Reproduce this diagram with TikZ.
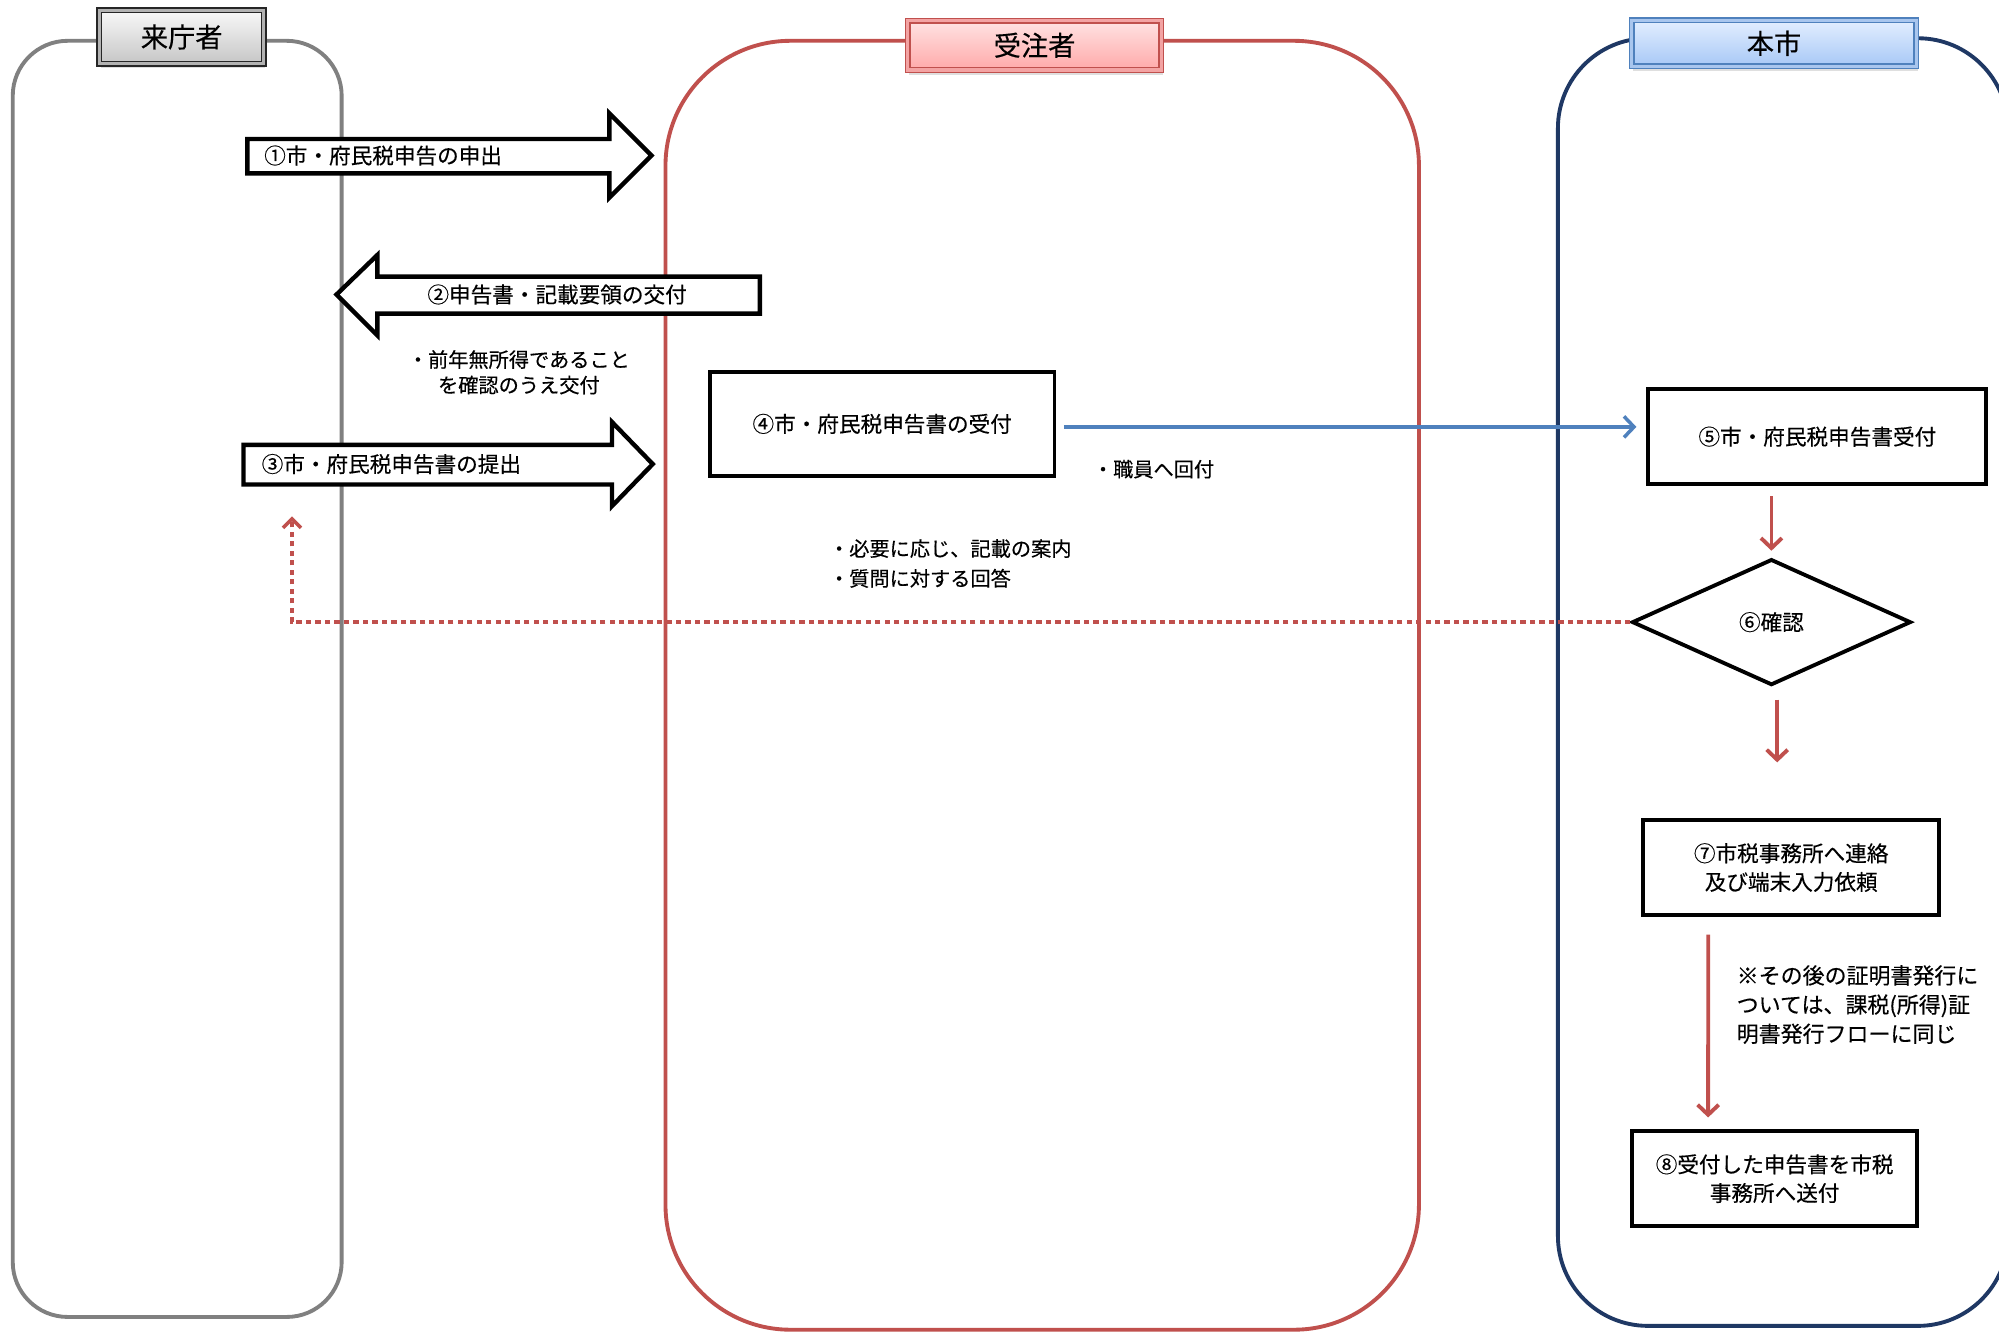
\documentclass[tikz,border=0pt]{standalone}
\usepackage{fontspec}
\setmainfont{Noto Sans CJK JP}[FakeBold=0.35]
\usepackage{tikz}
\usetikzlibrary{shapes,arrows.meta,positioning,calc,shadows}
\usepackage{xcolor}

\definecolor{laneGrey}{HTML}{808080}
\definecolor{laneRed}{HTML}{C0504D}
\definecolor{laneNavy}{HTML}{1F3864}
\definecolor{flowBlue}{HTML}{4F81BD}
\definecolor{skyTop}{HTML}{E3EEFF}
\definecolor{skyBottom}{HTML}{A7C8F6}
\definecolor{skyFrame}{HTML}{A9C6EE}
\definecolor{pinkTop}{HTML}{FFE3E3}
\definecolor{pinkBottom}{HTML}{FFA9A9}
\definecolor{pinkFrame}{HTML}{F3A3A3}

\tikzset{
  lane/.style={line width=2.2pt, rounded corners=#1},
  header/.style={inner sep=0pt, line width=0.8pt, double distance=1.8pt,
    font=\fontsize{15.5}{18}\selectfont,
    drop shadow={opacity=0.25, shadow xshift=0.3mm, shadow yshift=-0.9mm}},
  hdrgrey/.style={header, draw=black!85, double=gray!60, top color=gray!5, bottom color=gray!45},
  hdrred/.style={header, draw=laneRed, double=pinkFrame, top color=pinkTop, bottom color=pinkBottom},
  hdrblue/.style={header, draw=flowBlue, double=skyFrame, top color=skyTop, bottom color=skyBottom},
  stepbox/.style={draw=black, line width=2.2pt, fill=white, align=center, inner sep=0pt,
    font=\fontsize{12.3}{16.3}\selectfont},
  checkbox/.style={draw=black, line width=2.2pt, fill=white, diamond, inner sep=0pt,
    font=\fontsize{12.3}{16.3}\selectfont},
  bigarrow/.style={draw=black, fill=white, line width=2.5pt},
  arrowtext/.style={anchor=west, inner sep=0pt, font=\fontsize{12.3}{16.3}\selectfont},
  note/.style={inner sep=0pt, font=\fontsize{11.5}{14.5}\selectfont},
  flow/.style={draw=laneRed, line width=2.2pt, -{Straight Barb[length=2mm,width=4.2mm]}},
  tocity/.style={draw=flowBlue, line width=2pt, -{Straight Barb[length=2mm,width=4.2mm]}},
  backline/.style={draw=laneRed, line width=2pt, dash pattern=on 3pt off 2.4pt,
    -{Straight Barb[length=1.8mm,width=3.6mm]}}
}

\begin{document}
\begin{tikzpicture}[x=0.255mm, y=-0.255mm]
  \clip (0,0) rectangle (1568,1047);
  \fill[white] (0,0) rectangle (1568,1047);

  % Lanes
  \draw[lane=11mm, laneGrey] (10,32) rectangle (268,1033);
  \draw[lane=25mm, laneRed] (522,32) rectangle (1113,1043);
  \draw[lane=18mm, laneNavy] (1222,30) rectangle (1575,1040);

  % Lane headers
  \node[hdrgrey, minimum width=32.9mm, minimum height=10.7mm] (visitor) at (142.5,29) {来庁者};
  \node[hdrred, minimum width=50.7mm, minimum height=9.9mm] (contractor) at (811.5,35.5) {受注者};
  \node[hdrblue, minimum width=56.9mm, minimum height=9.2mm] (city) at (1391.5,34) {本市};

  % Block arrows between visitor and contractor
  \draw[bigarrow] (194,109) -- (478,109) -- (478,89) -- (511,122) -- (478,155) -- (478,136) -- (194,136) -- cycle;
  \node[arrowtext] (req1) at (207,122) {①市・府民税申告の申出};

  \draw[bigarrow] (596,217) -- (296,217) -- (296,200) -- (264,231) -- (296,263) -- (296,246) -- (596,246) -- cycle;
  \node[arrowtext] (give2) at (335,231) {②申告書・記載要領の交付};
  \node[note, align=center] (give2note) at (407,292) {・前年無所得であること\\を確認のうえ交付};

  \draw[bigarrow] (191,349) -- (480,349) -- (480,331) -- (512,364) -- (480,397) -- (480,380) -- (191,380) -- cycle;
  \node[arrowtext] (submit3) at (205,364) {③市・府民税申告書の提出};

  % Contractor
  \node[stepbox, minimum width=68.9mm, minimum height=20.7mm] (accept4) at (692,332.5) {④市・府民税申告書の受付};
  \node[note, anchor=west] (pass4) at (857,368) {・職員へ回付};
  \node[note, anchor=west, align=left, font=\fontsize{11.5}{17}\selectfont] (guide4) at (650,442)
    {・必要に応じ、記載の案内\\・質問に対する回答};

  % City
  \node[stepbox, minimum width=67.6mm, minimum height=19.1mm] (accept5) at (1425.5,342.5) {⑤市・府民税申告書受付};
  \node[checkbox, minimum width=55.8mm, minimum height=25.2mm] (check6) at (1389.5,488) {⑥確認};
  \node[stepbox, minimum width=59.2mm, minimum height=19.1mm] (contact7) at (1405,680.5)
    {⑦市税事務所へ連絡\\及び端末入力依頼};
  \node[stepbox, minimum width=57.1mm, minimum height=19.1mm] (send8) at (1392,924.5)
    {⑧受付した申告書を市税\\事務所へ送付};
  \node[note, anchor=west, align=left, font=\fontsize{12.5}{16.6}\selectfont] (after7) at (1362,788)
    {※その後の証明書発行に\\ついては、課税(所得)証\\明書発行フローに同じ};

  \coordinate (ret) at (229,405);
  \coordinate (down6) at (1394,598);

  % Connectors
  \draw[tocity, shorten <=1.5mm, shorten >=2mm] ([yshift=-0.6mm]accept4.east) -- ([yshift=-0.6mm]accept4.east -| accept5.west);
  \draw[flow, shorten <=2mm, shorten >=1.3mm] (accept5.south -| check6.north) -- (check6.north);
  \draw[flow, shorten <=2.5mm] (check6.south -| down6) -- (down6);
  \draw[flow, shorten <=3.5mm, shorten >=2.3mm] ([xshift=-16.6mm]contact7.south) -- ([xshift=-13.3mm]send8.north);
  \draw[backline] (check6.west) -| (ret);
\end{tikzpicture}
\end{document}
